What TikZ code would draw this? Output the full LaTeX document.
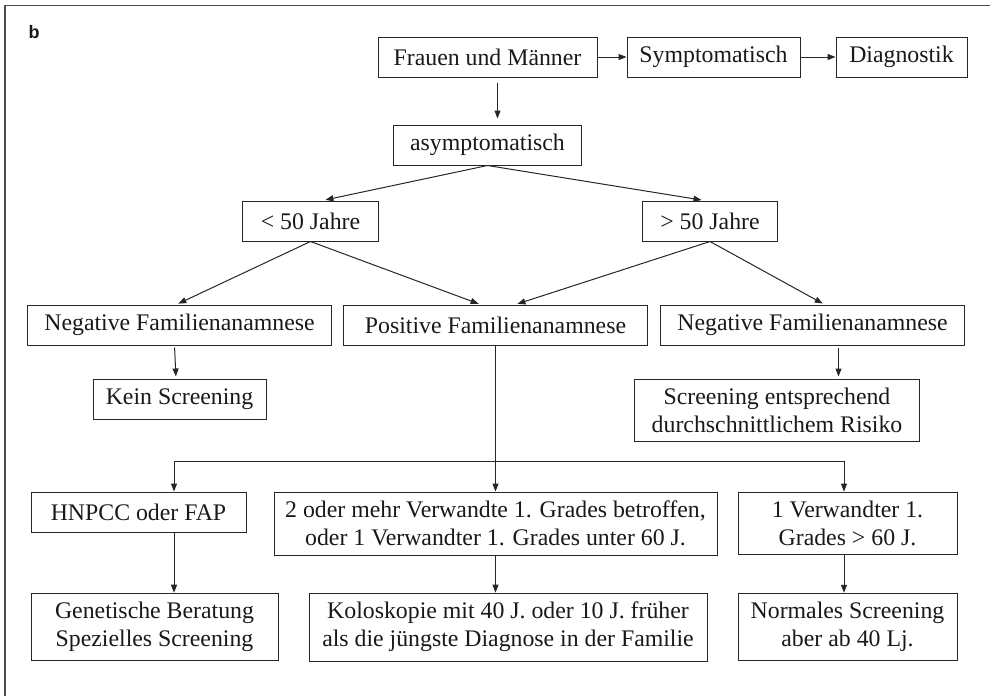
\documentclass[tikz,border=0pt]{standalone}
\usepackage{fontspec}
\setmainfont{Liberation Serif}
\newfontfamily\panelfont{Liberation Sans}
\usetikzlibrary{positioning,arrows.meta}

\begin{document}
\begin{tikzpicture}[node distance=10pt,
  every node/.style={font=\fontsize{11.9}{14}\selectfont, text=black!90},
  box/.style={draw=black!85, line width=0.5pt, align=center, inner xsep=2pt, inner ysep=4.5pt, minimum height=20pt},
  wire/.style={draw=black!85, line width=0.5pt},
  link/.style={wire, -{Triangle[length=4pt,width=3pt]}}]
\useasboundingbox (0,0) rectangle (495pt,-348pt);
\draw[black!70, line width=0.6pt] (2.5pt,-348pt) -- (2.5pt,-2.75pt) -- (495pt,-2.75pt);
\node[font=\panelfont\bfseries\fontsize{9}{10}\selectfont, anchor=base west] (panel) at (10.75pt,-19pt) {b};

% top row
\node[box, minimum width=109.5pt] (frauen) at (243.75pt,-28.5pt) {Frauen und Männer};
\node[box, minimum width=86.5pt, right=14.5pt of frauen] (sympt) {Symptomatisch};
\node[box, minimum width=65.5pt, right=17.5pt of sympt] (diag) {Diagnostik};
\node[box, minimum width=94pt, below=23.5pt of frauen] (asym) {asymptomatisch};

% age split
\node[box, minimum width=68pt, below=17.5pt of asym, xshift=-88.5pt] (jung) {< 50 Jahre};
\node[box, minimum width=67.5pt, right=131.5pt of jung] (alt) {> 50 Jahre};

% family history
\node[box, minimum width=152pt, below=69.5pt of asym, xshift=4pt] (pos) {Positive Familienanamnese};
\node[box, minimum width=152pt, left=5.5pt of pos] (negl) {Negative Familienanamnese};
\node[box, minimum width=152pt, right=6pt of pos] (negr) {Negative Familienanamnese};
\node[box, minimum width=86.5pt, below=16.5pt of negl] (kein) {Kein Screening};
\node[box, minimum width=142.5pt, below=16.5pt of negr, xshift=-17.75pt] (risiko) {Screening entsprechend\\durchschnittlichem Risiko};

% positive branches
\node[box, minimum width=221.5pt, below=73pt of pos] (zwei) {2 oder mehr Verwandte 1. Grades betroffen,\\oder 1 Verwandter 1. Grades unter 60 J.};
\node[box, minimum width=107.5pt, left=13.5pt of zwei.north west, anchor=north east] (hnpcc) {HNPCC oder FAP};
\node[box, minimum width=109.5pt, right=10pt of zwei] (einer) {1 Verwandter 1.\\Grades > 60 J.};
\node[box, minimum width=199pt, below=18.5pt of zwei, xshift=6.25pt] (kolo) {Koloskopie mit 40 J. oder 10 J. früher\\als die jüngste Diagnose in der Familie};
\node[box, minimum width=123.5pt, left=15pt of kolo] (genet) {Genetische Beratung\\Spezielles Screening};
\node[box, minimum width=109.5pt, right=15pt of kolo] (normal) {Normales Screening\\aber ab 40 Lj.};

\draw[link] (frauen) -- (sympt);
\draw[link] (sympt) -- (diag);
\draw[link, shorten <=2.5pt, shorten >=3pt] ([xshift=5pt]frauen.south) -- ([xshift=5pt]asym.north);
\draw[link, shorten >=1.5pt] (asym.south) -- ([xshift=6pt]jung.north);
\draw[link, shorten >=1.5pt] (asym.south) -- ([xshift=-2.75pt]alt.north);
\draw[link, shorten >=1pt] (jung.south) -- ([xshift=-1.5pt]negl.north);
\draw[link, shorten >=1pt] (jung.south) -- ([xshift=-7.5pt]pos.north);
\draw[link, shorten >=1pt] (alt.south) -- ([xshift=10pt]pos.north);
\draw[link, shorten >=1pt] (alt.south) -- ([xshift=6pt]negr.north);
\draw[link, shorten <=1pt, shorten >=1pt] ([xshift=-2.5pt]negl.south) -- ([xshift=-1.75pt]kein.north);
\draw[link, shorten <=1pt, shorten >=1pt] ([xshift=13pt]negr.south) -- ([xshift=30.75pt]risiko.north);

\coordinate[below=58pt of pos.south] (gabel);
\draw[wire] (pos) -- (gabel);
\draw[link] (gabel) -| ([xshift=17.75pt]hnpcc.north);
\draw[link] (gabel) -- (zwei);
\draw[link] (gabel) -| ([xshift=-1.75pt]einer.north);
\draw[link] ([xshift=17.75pt]hnpcc.south) -- ([xshift=9.75pt]genet.north);
\draw[link] (zwei.south) -- ([xshift=-6.25pt]kolo.north);
\draw[link] ([xshift=-1.75pt]einer.south) -- ([xshift=-1.75pt]normal.north);
\end{tikzpicture}
\end{document}
